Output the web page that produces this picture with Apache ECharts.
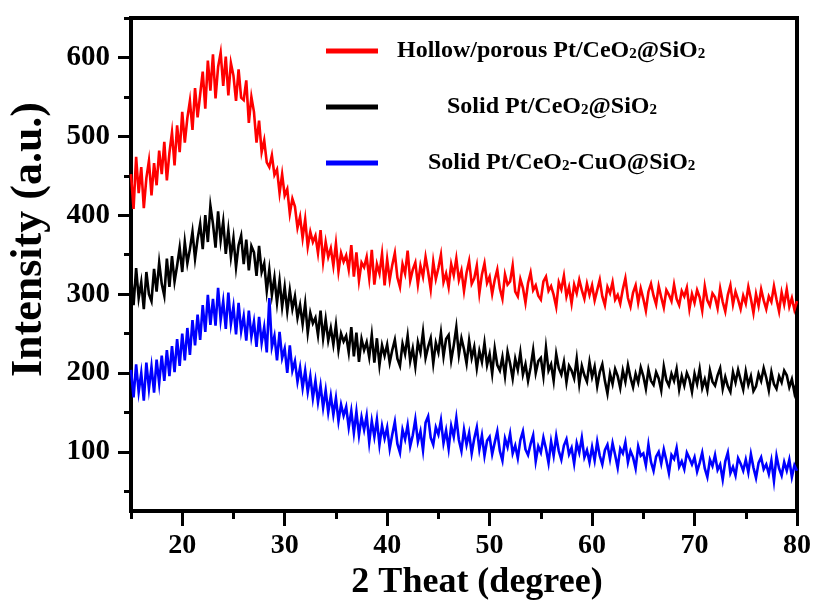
<!DOCTYPE html>
<html>
<head>
<meta charset="utf-8">
<script src="https://cdn.jsdelivr.net/npm/echarts@6/dist/echarts.min.js"></script>
<style>html,body{margin:0;padding:0;background:#fff}#c{width:815px;height:606px}</style>
</head>
<body>
<div id="c"></div>
<script>
// 2θ sampling of the scan (degrees)
const thetaStart = 15;
const thetaStep = 0.25;

const seriesNames = ['Hollow/porous Pt/CeO2@SiO2', 'Solid Pt/CeO2@SiO2', 'Solid Pt/CeO2-CuO@SiO2'];

// Intensities, one value per 0.25°, from 15° to 80°
const redIntensity = [
452,408,474,428, 461,409,447,469, 425,466,438,482, 452,493,444,479,
505,463,514,480, 531,492,523,545, 508,561,524,553, 582,535,596,558,
604,548,588,606, 564,601,552,593, 577,545,585,549, 546,571,517,550,
531,492,520,480, 495,467,461,476, 451,458,428,452, 425,433,402,421,
411,384,398,371, 395,360,379,366, 374,352,381,341, 366,347,358,336,
364,329,352,341, 349,331,362,322, 353,317,340,334, 347,320,356,312,
338,326,351,311,
344,318,337,352, 321,309,338,326, 355,317,331,340, 312,336,322,347, 328,306,341,319,
333,350,315,326, 309,338,324,345, 318,330,304,327, 342,313,320,336, 301,325,339,314,
322,300,318,331, 307,294,325,312, 316,336,303,297, 319,308,289,314, 327,305,311,298,
293,316,322,304, 310,299,284,315, 306,323,297,309, 288,312,301,318, 305,294,313,299,
311,292,305,318, 297,286,309,301, 315,293,299,288, 306,320,295,284, 302,311,289,307,
294,279,303,313, 298,287,310,296, 283,305,299,291, 312,294,286,304, 297,308,281,300,
289,305,296,279, 310,292,285,301, 296,282,307,290, 278,299,311,287, 303,293,281,298,
288,309,294,276, 300,285,306,292, 281,297,290,310, 293,278,302,287, 306,284,295,280,
291
];

const blackIntensity = [
324,286,333,295, 315,281,328,300, 291,332,303,340, 313,298,345,309,
348,316,336,359, 328,366,339,357, 379,345,370,389, 357,400,366,412,
389,359,405,368, 392,351,381,347, 371,334,362,374, 338,369,330,361,
353,323,361,328, 339,304,331,299, 321,289,317,284, 309,278,305,281,
297,270,286,262, 288,251,276,263, 270,248,279,244, 268,241,257,236,
261,229,250,240, 247,226,258,221, 251,214,243,229, 239,220,248,213,
244,210,235,222,
236,213,229,242, 218,209,237,224, 247,215,231,208, 239,226,252,219, 233,244,212,238,
226,251,221,243, 248,216,235,258, 223,244,230,212, 241,219,233,206, 228,214,238,210,
224,199,231,210, 203,220,196,227, 212,193,218,204, 226,198,211,190, 207,229,200,215,
219,196,232,203, 211,190,224,206, 198,214,188,209, 203,193,218,186, 209,197,189,214,
195,208,183,201, 211,190,174,199, 186,205,196,181, 203,189,210,194, 182,199,188,207,
196,180,204,190, 185,201,193,178, 208,191,184,199, 190,205,179,196, 184,200,192,176,
199,186,205,181, 192,178,203,189, 184,197,206,180, 195,183,176,201, 188,204,191,179,
202,185,196,177, 183,199,190,206, 194,178,201,186, 180,196,188,203, 197,182,192,175,
190
];

const blueIntensity = [
204,169,211,176, 200,165,213,180, 208,175,217,187, 222,190,229,196,
234,201,243,209, 250,216,257,223, 267,235,274,242, 286,252,299,261,
294,260,308,267, 291,256,302,262, 284,249,289,253, 272,241,279,246,
265,233,271,238, 258,226,295,233, 247,216,252,219, 231,200,235,203,
215,189,207,181, 203,176,196,168, 190,163,184,156, 178,150,171,147,
168,139,160,146, 157,131,152,124, 151,121,144,128, 146,112,139,119,
141,109,133,117,
131,104,122,138, 110,99,128,116, 134,107,121,141, 113,126,102,137, 145,118,109,131,
122,140,111,127, 104,133,119,143, 115,101,128,109, 124,98,117,131, 103,121,95,114,
119,97,112,126, 101,89,117,106, 123,98,108,92, 115,126,103,96, 110,121,88,107,
99,118,104,86, 113,95,120,101, 90,108,116,97, 105,85,111,99, 118,93,102,87,
106,89,113,95, 84,102,109,91, 111,96,80,104, 98,112,87,101, 93,79,107,95,
98,83,109,87, 76,94,100,85, 103,89,73,96, 91,105,81,88, 78,99,92,84,
93,75,86,99, 79,68,90,82, 96,77,84,65, 88,99,73,81, 70,92,85,76,
90,74,97,80, 67,86,93,78, 84,72,89,63, 95,79,70,87, 76,90,68,83,
76
];

const xMajorTicks = [20, 30, 40, 50, 60, 70, 80];
const xMinorTicks = [15, 25, 35, 45, 55, 65, 75];
const yMajorTicks = [100, 200, 300, 400, 500, 600];
const yMinorTicks = [50, 150, 250, 350, 450, 550, 650];

const FONT = '"Liberation Serif", "Times New Roman", serif';
const toPairs = arr => arr.map((v, i) => [thetaStart + i * thetaStep, v]);

const colors = ['#ff0000', '#000000', '#0000ff'];
const dataSets = [redIntensity, blackIntensity, blueIntensity];

const legendRich = {
  t: { fontFamily: FONT, fontWeight: 'bold', fontSize: 24, color: '#000', lineHeight: 28 },
  s: { fontFamily: FONT, fontWeight: 'bold', fontSize: 15, color: '#000', lineHeight: 28, verticalAlign: 'bottom', padding: [0, 0, 3, 0] },
  g0: { width: 14, lineHeight: 28 },
  g1: { width: 64, lineHeight: 28 },
  g2: { width: 45, lineHeight: 28 }
};
function richName(name, idx) {
  const parts = name.split('O2');
  let out = '{g' + idx + '| }';
  parts.forEach((p, k) => {
    if (p.length) out += '{t|' + p + (k < parts.length - 1 ? 'O' : '') + '}';
    else if (k < parts.length - 1) out += '{t|O}';
    if (k < parts.length - 1) out += '{s|2}';
  });
  return out;
}
const legendTops = [39, 95, 151];
const legends = seriesNames.map((n, i) => ({
  data: [n],
  left: 326,
  top: legendTops[i],
  padding: 0,
  orient: 'vertical',
  icon: 'rect',
  itemWidth: 52,
  itemHeight: 5,
  selectedMode: false,
  formatter: name => richName(name, i),
  textStyle: { rich: legendRich }
}));

const chart = echarts.init(document.getElementById('c'), null, { renderer: 'canvas' });
chart.setOption({
  animation: false,
  backgroundColor: '#fff',
  grid: { left: 129, right: 18, top: 18, bottom: 95, show: true, borderColor: '#000', borderWidth: 4, containLabel: false },
  legend: legends,
  xAxis: [{
    type: 'value', min: 15, max: 80,
    name: '2 Theat (degree)', nameLocation: 'middle', nameGap: 49,
    nameTextStyle: { fontFamily: FONT, fontWeight: 'bold', fontSize: 36, color: '#000', padding: [0, 0, 0, 26] },
    axisLine: { show: true, onZero: false, lineStyle: { color: '#000', width: 4 } },
    axisTick: { show: true, inside: false, length: 15, lineStyle: { color: '#000', width: 3 }, customValues: xMajorTicks },
    axisLabel: { show: true, margin: 21, fontFamily: FONT, fontWeight: 'bold', fontSize: 28, color: '#000', customValues: xMajorTicks },
    splitLine: { show: false }
  }, {
    type: 'value', min: 15, max: 80, position: 'bottom', gridIndex: 0,
    axisLine: { show: false },
    axisTick: { show: true, inside: false, length: 8, lineStyle: { color: '#000', width: 3 }, customValues: xMinorTicks },
    axisLabel: { show: false },
    splitLine: { show: false }
  }],
  yAxis: [{
    type: 'value', min: 25, max: 650, position: 'left',
    name: 'Intensity (a.u.)', nameLocation: 'middle', nameGap: 79, nameRotate: 90,
    nameTextStyle: { fontFamily: FONT, fontWeight: 'bold', fontSize: 44, color: '#000', padding: [0, 0, 0, 50] },
    axisLine: { show: true, onZero: false, lineStyle: { color: '#000', width: 4 } },
    axisTick: { show: true, inside: false, length: 13, lineStyle: { color: '#000', width: 3 }, customValues: yMajorTicks },
    axisLabel: { show: true, margin: 21, fontFamily: FONT, fontWeight: 'bold', fontSize: 29, color: '#000', customValues: yMajorTicks },
    splitLine: { show: false }
  }, {
    type: 'value', min: 25, max: 650, position: 'left', gridIndex: 0,
    axisLine: { show: false },
    axisTick: { show: true, inside: false, length: 7, lineStyle: { color: '#000', width: 3 }, customValues: yMinorTicks },
    axisLabel: { show: false },
    splitLine: { show: false }
  }],
  series: seriesNames.map((n, i) => ({
    name: n,
    type: 'line',
    xAxisIndex: 0,
    yAxisIndex: 0,
    showSymbol: false,
    symbol: 'none',
    color: colors[i],
    lineStyle: { color: colors[i], width: 2.6, join: 'miter' },
    data: toPairs(dataSets[i]),
    z: 3 - i
  }))
});
</script>
</body>
</html>
